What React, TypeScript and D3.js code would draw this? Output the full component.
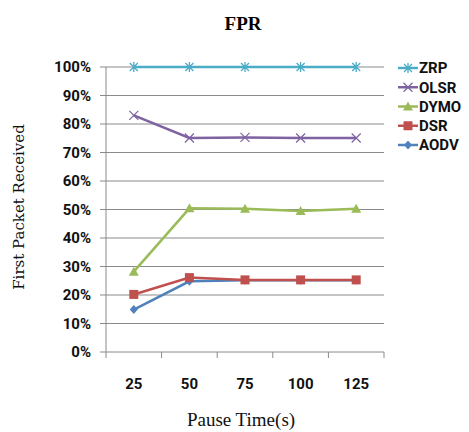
import * as d3 from "d3";

const pauseTimes = ["25", "50", "75", "100", "125"];
const yTicks = [0, 10, 20, 30, 40, 50, 60, 70, 80, 90, 100];

const seriesNames = ["ZRP", "OLSR", "DYMO", "DSR", "AODV"];
const zrp = [100, 100, 100, 100, 100];
const olsr = [83, 75.1, 75.3, 75.1, 75.1];
const dymo = [28.2, 50.4, 50.3, 49.5, 50.3];
const dsr = [20.2, 26.1, 25.3, 25.3, 25.3];
const aodv = [14.9, 24.8, 25.2, 25.2, 25.2];

const colors: Record<string, string> = {
  ZRP: "#4BACC6",
  OLSR: "#7E62A1",
  DYMO: "#9BBB59",
  DSR: "#C0504D",
  AODV: "#4F81BD",
};

const width = 469;
const height = 432;
const left = 106;
const right = 384;
const top = 67;
const bottom = 352;
const sans = "'Liberation Sans Narrow', 'Roboto', sans-serif";

function Marker({ name, x, y }: { name: string; x: number; y: number }) {
  const c = colors[name];
  if (name === "ZRP") {
    return (
      <g stroke={c} strokeWidth={1.3} fill="none">
        <path d={`M${x - 4},${y - 4}L${x + 4},${y + 4}M${x - 4},${y + 4}L${x + 4},${y - 4}M${x},${y - 5}L${x},${y + 5}`} />
      </g>
    );
  }
  if (name === "OLSR") {
    return (
      <path d={`M${x - 4.5},${y - 4.5}L${x + 4.5},${y + 4.5}M${x - 4.5},${y + 4.5}L${x + 4.5},${y - 4.5}`} stroke={c} strokeWidth={1.2} />
    );
  }
  if (name === "DYMO") {
    return <path d={`M${x},${y - 5}L${x + 5},${y + 4}L${x - 5},${y + 4}Z`} fill={c} />;
  }
  if (name === "DSR") {
    return <rect x={x - 4.5} y={y - 4.5} width={9} height={9} fill={c} />;
  }
  return <path d={`M${x},${y - 4.5}L${x + 4},${y}L${x},${y + 4.5}L${x - 4},${y}Z`} fill={c} />;
}

export default function App() {
  const data: Record<string, number[]> = { ZRP: zrp, OLSR: olsr, DYMO: dymo, DSR: dsr, AODV: aodv };

  const x = d3.scalePoint<string>().domain(pauseTimes).range([left, right]).padding(0.5);
  const band = d3.scaleBand<string>().domain(pauseTimes).range([left, right]);
  const y = d3.scaleLinear().domain([0, 100]).range([bottom, top]);
  const legendY = d3.scalePoint<string>().domain(seriesNames).range([68, 145]);

  const line = d3
    .line<[string, number]>()
    .x((d) => x(d[0]) as number)
    .y((d) => y(d[1]));

  const tickXs = [...pauseTimes.map((p) => band(p) as number), right];
  const drawOrder = ["AODV", "DSR", "DYMO", "OLSR", "ZRP"];

  return (
    <svg
      width={width}
      height={height}
      style={{ position: "absolute", left: 0, top: 0, background: "#fff" }}
    >
      <text x={243} y={30} textAnchor="middle" fontFamily="Liberation Serif" fontWeight="bold" fontSize={19}>
        FPR
      </text>

      {yTicks.map((t) => (
        <g key={t}>
          {t > 0 && <line x1={left} x2={right} y1={y(t)} y2={y(t)} stroke="#8a8a8a" strokeWidth={1} />}
          <line x1={left - 6} x2={left} y1={y(t)} y2={y(t)} stroke="#8a8a8a" />
          <text
            x={91}
            y={y(t)}
            dy="0.36em"
            textAnchor="end"
            fontFamily={sans}
            fontWeight="bold"
            fontSize={15}
            fill="#111"
          >
            {t}%
          </text>
        </g>
      ))}

      <line x1={left} x2={left} y1={top} y2={bottom} stroke="#8a8a8a" />
      <line x1={left} x2={right} y1={bottom} y2={bottom} stroke="#8a8a8a" />
      {tickXs.map((tx, i) => (
        <line key={i} x1={tx} x2={tx} y1={bottom} y2={bottom + 6} stroke="#8a8a8a" />
      ))}
      {pauseTimes.map((p) => (
        <text
          key={p}
          x={x(p)}
          y={389}
          textAnchor="middle"
          fontFamily={sans}
          fontWeight="bold"
          fontSize={15}
          fill="#111"
        >
          {p}
        </text>
      ))}

      <text
        transform={`translate(24,207) rotate(-90)`}
        textAnchor="middle"
        fontFamily="DejaVu Serif"
        fontSize={15}
        fill="#111"
      >
        First Packet Received
      </text>
      <text x={241} y={426} textAnchor="middle" fontFamily="Liberation Serif" fontSize={19} fill="#111">
        Pause Time(s)
      </text>

      {drawOrder.map((name) => {
        const vals = data[name];
        const pts = pauseTimes.map((p, i) => [p, vals[i]] as [string, number]);
        return (
          <g key={name}>
            <path d={line(pts) ?? ""} fill="none" stroke={colors[name]} strokeWidth={2.5} />
            {pts.map((d) => (
              <Marker key={d[0]} name={name} x={x(d[0]) as number} y={y(d[1])} />
            ))}
          </g>
        );
      })}

      {seriesNames.map((name) => {
        const ly = legendY(name) as number;
        return (
          <g key={name}>
            <line x1={398} x2={418} y1={ly} y2={ly} stroke={colors[name]} strokeWidth={2.5} />
            <Marker name={name} x={408} y={ly} />
            <text x={419} y={ly} dy="0.36em" fontFamily={sans} fontWeight="bold" fontSize={15} fill="#111">
              {name}
            </text>
          </g>
        );
      })}
    </svg>
  );
}
